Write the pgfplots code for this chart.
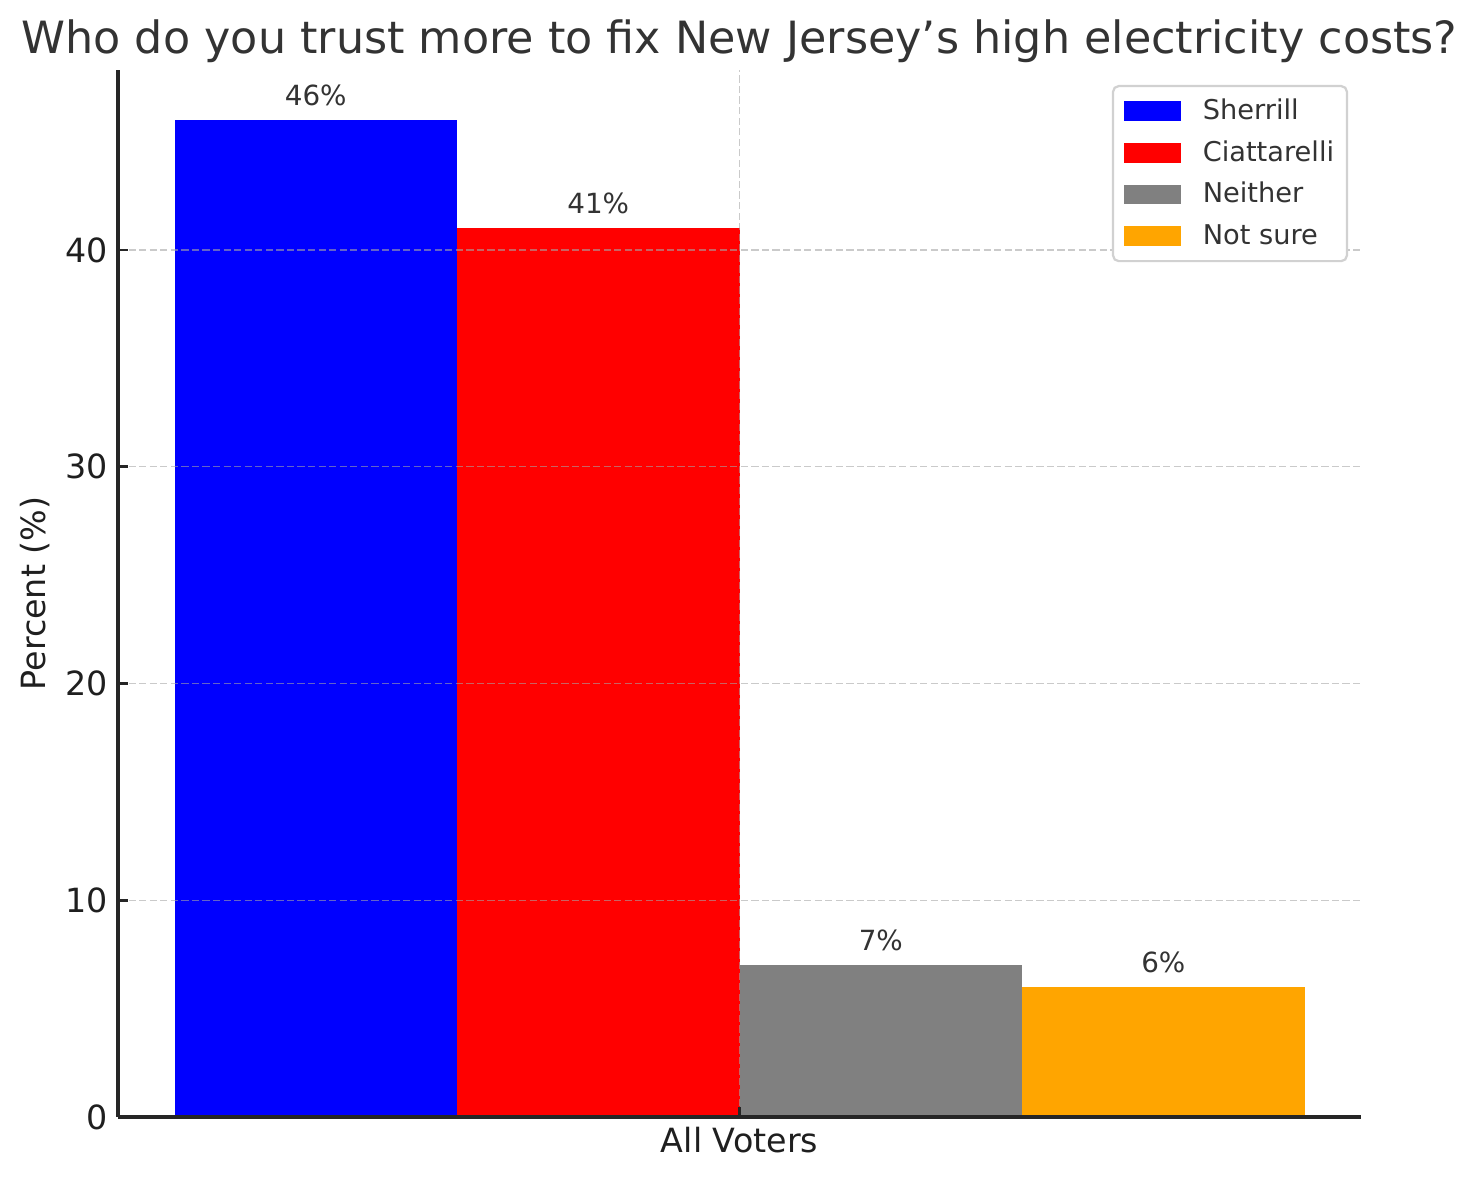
\documentclass[border=0pt]{standalone}
\usepackage{pgfplots}
\pgfplotsset{compat=1.18}
\usepackage{fontspec}
\setmainfont{DejaVu Sans}
\definecolor{txt}{HTML}{333333}
\definecolor{spine}{HTML}{262626}
\definecolor{orng}{RGB}{255,165,0}
\definecolor{grayb}{RGB}{128,128,128}
\begin{document}
\begin{tikzpicture}
\begin{axis}[
  width=447.5pt, height=376.9pt, scale only axis,
  anchor=south west, at={(0pt,0pt)},
  xmin=-0.44, xmax=0.44, ymin=0, ymax=48.3,
  axis x line*=bottom, axis y line*=left,
  axis line style={spine, line width=1.1pt},
  axis on top,
  xtick={0}, xticklabels={All Voters},
  ytick={0,10,20,30,40},
  tick align=inside, major tick length=3.6pt,
  tick style={spine, line width=1pt},
  /pgf/number format/assume math mode=true,
  ticklabel style={font=\fontsize{12}{14}\selectfont, text=black!88},
  grid=major,
  major grid style={draw=black!35, opacity=0.6, line width=0.5pt, dash pattern=on 2.6pt off 1.2pt},
  ylabel={Percent (\%)},
  ylabel style={font=\fontsize{12}{14}\selectfont, text=black!88, at={(axis description cs:-0.067,0.5)}, anchor=center, rotate=0},
  title={Who do you trust more to fix New Jersey’s high electricity costs?},
  title style={font=\fontsize{16}{19}\selectfont, text=txt, at={(axis description cs:0.5,1)}, anchor=base, yshift=0pt},
  legend cell align=left,
  legend image code/.code={\path (0pt,0pt); \draw[#1,draw=none,sharp corners] (1.5pt,-3.5pt) rectangle (21.8pt,3.5pt);},
  legend style={at={(rel axis cs:0.9895,0.9857)}, anchor=north east, draw=black!18, rounded corners=2pt, line width=0.8pt, font=\fontsize{9.8}{12}\selectfont, text=txt, inner xsep=2.6pt, inner ysep=4pt, row sep=5pt, column sep=5.9pt, nodes={inner ysep=0pt, inner xsep=2pt, text height=8pt, text depth=2pt}},
  nodes near coords={\pgfmathprintnumber{\pgfplotspointmeta}\%},
  every node near coord/.append style={font=\fontsize{10}{12}\selectfont, text=txt, anchor=south, inner sep=0pt, text depth=0pt, yshift=5pt},
]
\addplot[ybar, bar width=0.2, bar shift=0pt, fill=blue, draw=none] coordinates {(-0.3,46)};
\addlegendentry{Sherrill}
\addplot[ybar, bar width=0.2, bar shift=0pt, fill=red, draw=none] coordinates {(-0.1,41)};
\addlegendentry{Ciattarelli}
\addplot[ybar, bar width=0.2, bar shift=0pt, fill=grayb, draw=none] coordinates {(0.1,7)};
\addlegendentry{Neither}
\addplot[ybar, bar width=0.2, bar shift=0pt, fill=orng, draw=none] coordinates {(0.3,6)};
\addlegendentry{Not sure}
\end{axis}
\pgfresetboundingbox
\useasboundingbox (-42.48pt,-22.68pt) rectangle (489.6pt,402.12pt);
\end{tikzpicture}
\end{document}
